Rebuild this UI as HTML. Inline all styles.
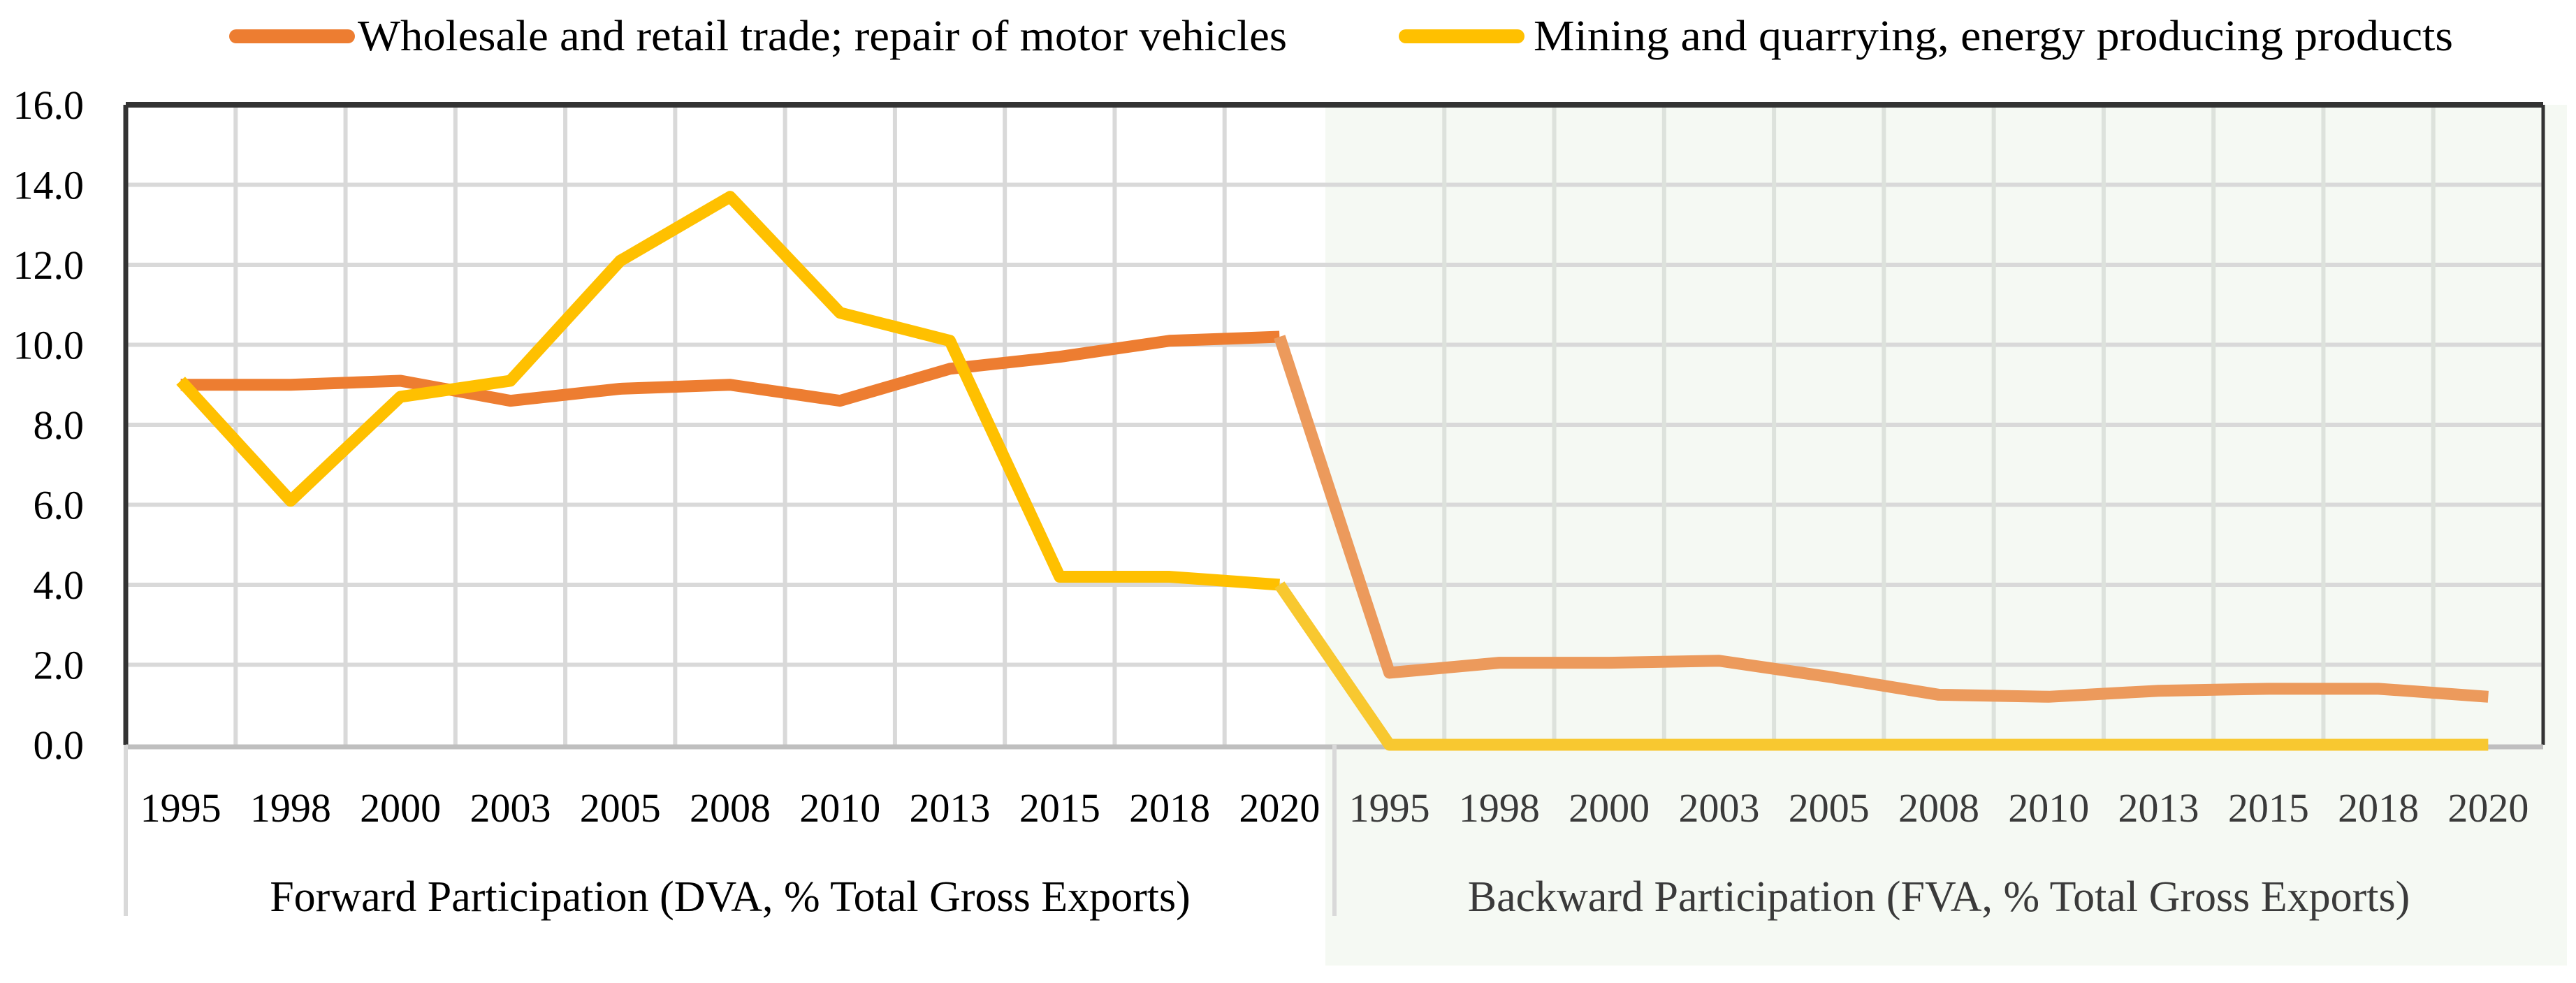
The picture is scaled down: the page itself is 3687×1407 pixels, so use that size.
<!DOCTYPE html>
<html><head><meta charset="utf-8"><style>
html,body{margin:0;padding:0;background:#fff;}
svg{display:block;font-family:"Liberation Serif",serif;}
</style></head><body>
<svg id="chart" width="3687" height="1407" viewBox="0 0 3687 1407" xmlns="http://www.w3.org/2000/svg">
<rect x="1897" y="150" width="1777" height="1232" fill="#f5f9f3"/>
<g id="grid"></g>
<g id="axes"></g>
<g id="series"></g>
<g id="labels"></g>
<g>
  <line x1="338" y1="52" x2="498" y2="52" stroke="#ED7D31" stroke-width="20" stroke-linecap="round"/>
  <text x="512" y="72" font-size="62" fill="#000" textLength="1330" lengthAdjust="spacingAndGlyphs">Wholesale and retail trade; repair of motor vehicles</text>
  <line x1="2012" y1="52" x2="2172" y2="52" stroke="#FFC000" stroke-width="20" stroke-linecap="round"/>
  <text x="2195" y="72" font-size="62" fill="#000" textLength="1316" lengthAdjust="spacingAndGlyphs">Mining and quarrying, energy producing products</text>
</g>
</svg>
<script>
const categories = ["1995","1998","2000","2003","2005","2008","2010","2013","2015","2018","2020"];
const groups = ["Forward Participation (DVA, % Total Gross Exports)","Backward Participation (FVA, % Total Gross Exports)"];
const wholesaleForward = [9.0,9.0,9.1,8.6,8.9,9.0,8.6,9.4,9.7,10.1,10.2];
const wholesaleBackward = [1.8,2.05,2.05,2.1,1.7,1.25,1.2,1.35,1.4,1.4,1.2];
const miningForward = [9.1,6.1,8.7,9.1,12.1,13.7,10.8,10.1,4.2,4.2,4.0];
const miningBackward = [0.0,0.0,0.0,0.0,0.0,0.0,0.0,0.0,0.0,0.0,0.0];
const yTicks = [0,2,4,6,8,10,12,14,16];

const NS="http://www.w3.org/2000/svg";
const L=180,R=3640,T=150,B=1066,yMax=16;
const n=categories.length*2;
const cw=(R-L)/n;
const x=i=>L+cw*(i+0.5);
const y=v=>B-(v/yMax)*(B-T);
function mk(tag,attrs,parent){const e=document.createElementNS(NS,tag);for(const k in attrs)e.setAttribute(k,attrs[k]);document.getElementById(parent).appendChild(e);return e;}

yTicks.forEach(t=>{
  if(t>0&&t<yMax){
    const g=mk('line',{x1:L,x2:R,y1:y(t),y2:y(t),stroke:'#d9d9d9','stroke-width':6},'grid');
    
    
  }
  const tx=mk('text',{x:120,y:y(t)+20,'font-size':58,'text-anchor':'end',fill:'#000'},'labels');
  tx.textContent=t.toFixed(1);
  
  
});
for(let i=1;i<n;i++){
  if(i===categories.length)continue;
  const g=mk('line',{x1:L+cw*i,x2:L+cw*i,y1:T,y2:B,stroke:i>categories.length?'#dde2dc':'#d9d9d9','stroke-width':6},'grid');
  
  
}
let a=mk('line',{x1:L,x2:R,y1:T,y2:T,stroke:'#333','stroke-width':8},'axes');

a=mk('line',{x1:L,x2:L,y1:T,y2:B,stroke:'#333','stroke-width':7},'axes');

a=mk('line',{x1:R,x2:R,y1:T,y2:B,stroke:'#333','stroke-width':5},'axes');

a=mk('line',{x1:L,x2:R,y1:B+3,y2:B+3,stroke:'#bfbfbf','stroke-width':7},'axes');

[L,L+cw*categories.length].forEach(xx=>{
  const d=mk('line',{x1:xx,x2:xx,y1:B,y2:1311,stroke:'#d9d9d9','stroke-width':6},'axes');
  
});
for(let i=0;i<n;i++){
  const back=i>=categories.length;
  const t=mk('text',{x:x(i),y:1176,'font-size':58,'text-anchor':'middle',fill:back?'#3a3a3a':'#000'},'labels');
  t.textContent=categories[i%categories.length];
  
  
}
groups.forEach((g,k)=>{
  const cx=L+cw*categories.length*(k+0.5);
  const t=mk('text',{x:cx,y:1304,'font-size':62,'text-anchor':'middle',fill:k?'#3a3a3a':'#000'},'labels');
  t.textContent=g;
  
  
});
function line(vals,color,name){
  const pts=vals.map((v,i)=>x(i)+','+y(v)).join(' ');
  const p=mk('polyline',{points:pts,fill:'none',stroke:color,'stroke-width':17,'stroke-linejoin':'round'},'series');
  
  
}
function combined(f,b,c1,c2,name){
  const all=f.concat(b);
  const k=f.length;
  line(f,c1,name+'-forward');
  const pts=all.map((v,i)=>[x(i),y(v)]);
  const p=mk('polyline',{points:pts.slice(k-1).map(q=>q.join(',')).join(' '),fill:'none',stroke:c2,'stroke-width':17,'stroke-linejoin':'round'},'series');
  
  
}
combined(wholesaleForward,wholesaleBackward,'#ED7D31','#EC9A5C','wholesale-line');
combined(miningForward,miningBackward,'#FFC000','#F8C830','mining-line');
</script>
</body></html>
